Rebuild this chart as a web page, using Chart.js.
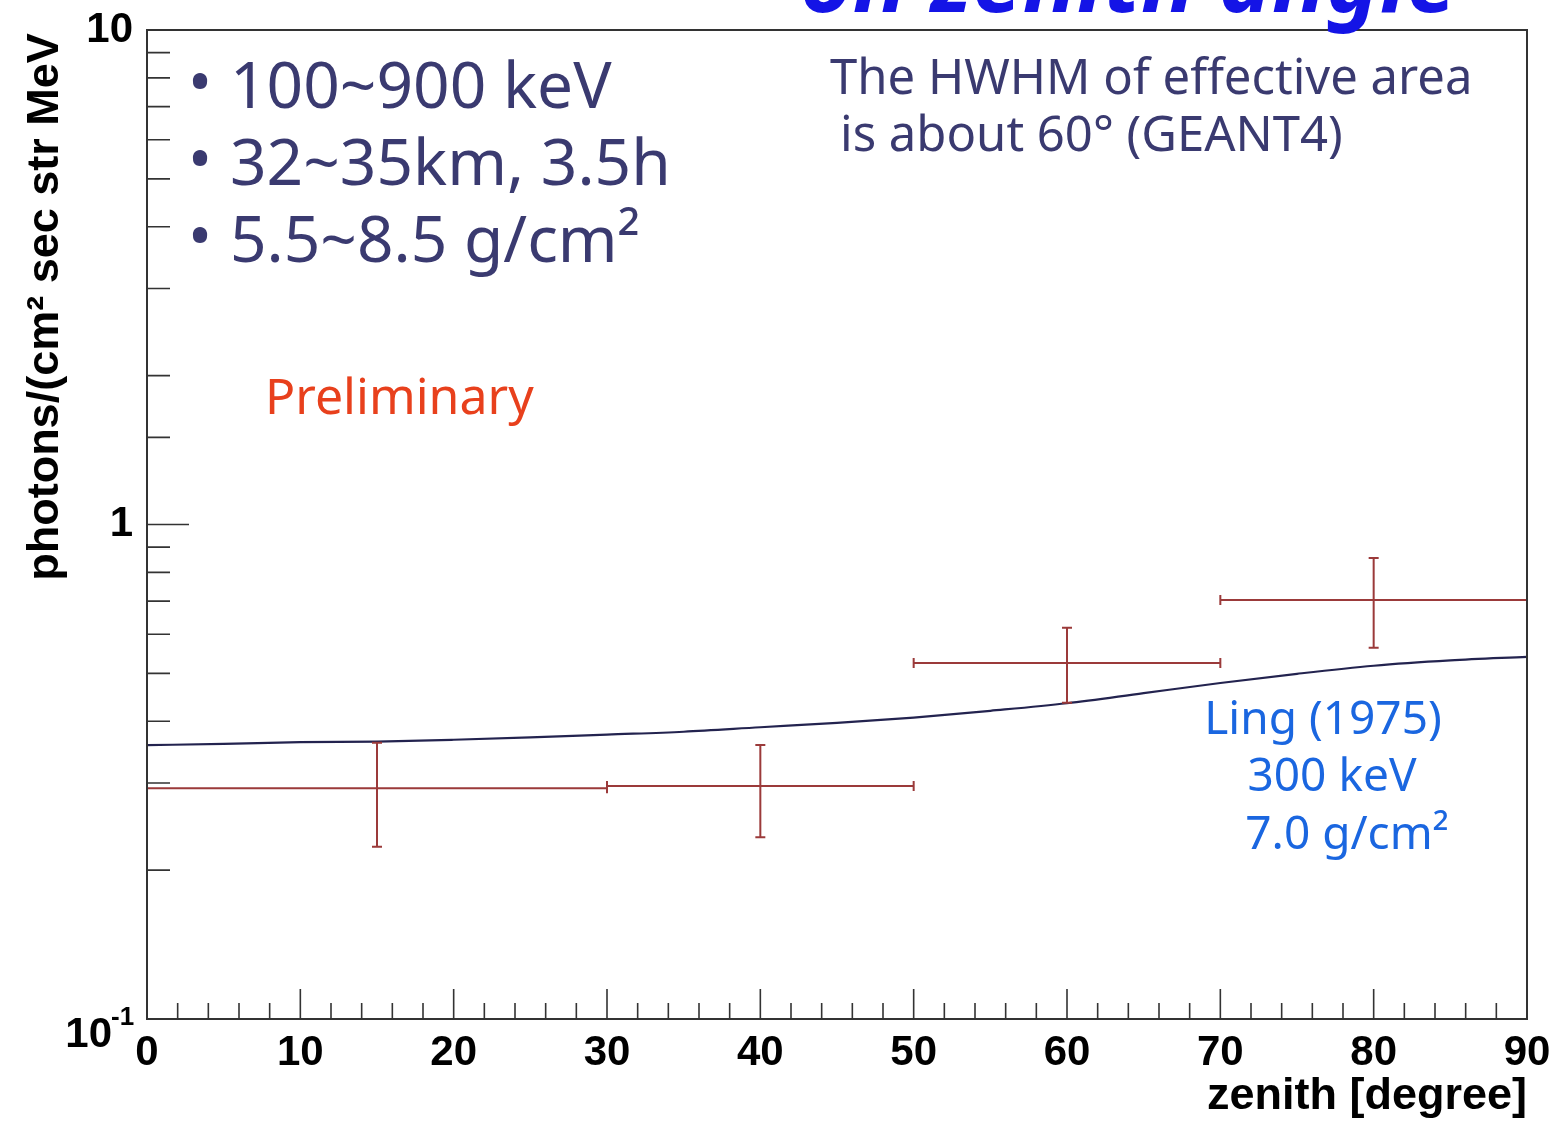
<!DOCTYPE html>
<html>
<head>
<meta charset="utf-8">
<script src="https://cdn.jsdelivr.net/npm/chart.js@4.4.0/dist/chart.umd.min.js"></script>
<style>
  html, body { margin: 0; padding: 0; background: #fff; }
  #wrap { width: 1550px; height: 1121px; position: relative; }
</style>
</head>
<body>
<div id="wrap"><canvas id="zenithChart" width="1550" height="1121"></canvas></div>
<script>
// measured flux per zenith bin
const binCenters = [15, 40, 60, 80];
const binHalfWidths = [15, 10, 10, 10];
const fluxValues = [0.293, 0.296, 0.525, 0.704];
const fluxLow = [0.223, 0.233, 0.436, 0.563];
const fluxHigh = [0.362, 0.358, 0.618, 0.856];

// Ling (1975) model, 300 keV, 7.0 g/cm2
const lingZenith = [0, 5, 10, 15, 20, 25, 30, 35, 40, 45, 50, 55, 60, 65, 70, 75, 80, 85, 90];
const lingFlux = [0.358, 0.360, 0.363, 0.364, 0.367, 0.371, 0.376, 0.381, 0.389, 0.397, 0.407, 0.420, 0.435, 0.456, 0.478, 0.499, 0.518, 0.531, 0.540];

// labelled ticks
const xTickLabels = [0, 10, 20, 30, 40, 50, 60, 70, 80, 90];
const yTickLabels = [1, 10];

const axisFont = '"Liberation Sans", Arial, sans-serif';
const noteFont = '"Noto Sans", Lato, sans-serif';

// frame, inward ticks, error bars and the slide texts
const overlayPlugin = {
    id: 'overlay',
    afterDatasetsDraw(chart) {
        const { ctx, scales: { x, y } } = chart;
        ctx.save();
        ctx.strokeStyle = '#9b3a3a';
        ctx.lineWidth = 2;
        binCenters.forEach((c, i) => {
            const px = x.getPixelForValue(c);
            const x0 = x.getPixelForValue(c - binHalfWidths[i]);
            const x1 = x.getPixelForValue(c + binHalfWidths[i]);
            const py = y.getPixelForValue(fluxValues[i]);
            const yLo = y.getPixelForValue(fluxLow[i]);
            const yHi = y.getPixelForValue(fluxHigh[i]);
            ctx.beginPath();
            ctx.moveTo(x0, py); ctx.lineTo(x1, py);
            ctx.moveTo(px, yLo); ctx.lineTo(px, yHi);
            // small end caps
            ctx.moveTo(x0, py - 5); ctx.lineTo(x0, py + 5);
            ctx.moveTo(x1, py - 5); ctx.lineTo(x1, py + 5);
            ctx.moveTo(px - 5, yLo); ctx.lineTo(px + 5, yLo);
            ctx.moveTo(px - 5, yHi); ctx.lineTo(px + 5, yHi);
            ctx.stroke();
        });
        ctx.restore();
    },
    afterDraw(chart) {
        const { ctx, chartArea: a, scales: { x, y } } = chart;
        ctx.save();

        // frame
        ctx.strokeStyle = '#333';
        ctx.lineWidth = 2;
        ctx.strokeRect(a.left, a.top, a.right - a.left, a.bottom - a.top);

        // x ticks pointing up
        ctx.lineWidth = 1.6;
        ctx.beginPath();
        x.ticks.forEach(t => {
            const px = x.getPixelForValue(t.value);
            const len = t.value % 10 === 0 ? 30 : 16;
            ctx.moveTo(px, a.bottom);
            ctx.lineTo(px, a.bottom - len);
        });
        // y ticks pointing right
        y.ticks.forEach(t => {
            const py = y.getPixelForValue(t.value);
            const lg = Math.log10(t.value);
            const len = Math.abs(lg - Math.round(lg)) < 1e-6 ? 42 : 23;
            ctx.moveTo(a.left, py);
            ctx.lineTo(a.left + len, py);
        });
        ctx.stroke();

        // 10^-1 label at the origin
        ctx.fillStyle = '#000';
        ctx.textBaseline = 'alphabetic';
        ctx.textAlign = 'right';
        ctx.font = 'bold 42px ' + axisFont;
        const yb = y.getPixelForValue(0.1);
        ctx.fillText('10', 112, yb + 28);
        ctx.font = 'bold 26px ' + axisFont;
        ctx.textAlign = 'left';
        ctx.fillText('-1', 111, yb + 6);

        // axis titles
        ctx.font = 'bold 45px ' + axisFont;
        ctx.textAlign = 'right';
        ctx.fillText('zenith [degree]', a.right, 1109);

        ctx.save();
        ctx.translate(46, 307);
        ctx.rotate(-Math.PI / 2);
        ctx.textAlign = 'center';
        ctx.textBaseline = 'middle';
        ctx.font = 'bold 45px ' + axisFont;
        ctx.fillText('photons/(cm\u00b2 sec str MeV', 0, 0);
        ctx.restore();

        // slide title, cut off at the top edge
        ctx.fillStyle = '#1414e6';
        ctx.font = 'italic bold 90px ' + noteFont;
        ctx.textAlign = 'left';
        ctx.fillText('on zenith angle', 800, 12);

        // run conditions
        ctx.fillStyle = '#3a3a70';
        ctx.font = '64px ' + noteFont;
        ['100~900 keV', '32~35km, 3.5h', '5.5~8.5 g/cm\u00b2'].forEach((s, i) => {
            const by = 108 + i * 77;
            ctx.fillText('\u2022', 188, by - 4);
            ctx.fillText(s, 230, by);
        });

        ctx.font = '49px ' + noteFont;
        ctx.fillText('The HWHM of effective area', 830, 94);
        ctx.fillText('is about 60\u00b0 (GEANT4)', 840, 151);

        ctx.fillStyle = '#e8401c';
        ctx.font = '50px ' + noteFont;
        ctx.fillText('Preliminary', 265, 414);

        ctx.fillStyle = '#1a66e0';
        ctx.font = '46px ' + noteFont;
        ctx.textAlign = 'center';
        ctx.fillText('Ling (1975)', 1323, 734);
        ctx.fillText('300 keV', 1332, 791);
        ctx.fillText('7.0 g/cm\u00b2', 1347, 849);

        ctx.restore();
    }
};

const ctx = document.getElementById('zenithChart').getContext('2d');
const zenithChart = new Chart(ctx, {
    type: 'scatter',
    data: {
        datasets: [
            {
                type: 'line',
                label: 'Ling (1975)',
                data: lingZenith.map((z, i) => ({ x: z, y: lingFlux[i] })),
                borderColor: '#23234f',
                borderWidth: 2.2,
                pointRadius: 0,
                cubicInterpolationMode: 'monotone',
                fill: false
            },
            {
                label: 'measured',
                data: binCenters.map((z, i) => ({ x: z, y: fluxValues[i] })),
                pointRadius: 0,
                backgroundColor: '#9b3a3a'
            }
        ]
    },
    options: {
        responsive: false,
        animation: false,
        layout: { padding: { left: 0, right: 23, top: 30, bottom: 0 } },
        plugins: {
            legend: { display: false },
            tooltip: { enabled: false }
        },
        scales: {
            x: {
                type: 'linear',
                min: 0,
                max: 90,
                grid: { display: false, drawTicks: false },
                border: { display: false },
                afterFit: s => { s.height = 102; s.paddingLeft = 0; s.paddingRight = 0; },
                ticks: {
                    stepSize: 2,
                    autoSkip: false,
                    maxRotation: 0,
                    padding: 9,
                    color: '#000',
                    font: { family: axisFont, size: 42, weight: 'bold' },
                    callback: v => xTickLabels.includes(v) ? String(v) : ''
                }
            },
            y: {
                type: 'logarithmic',
                min: 0.1,
                max: 10,
                grid: { display: false, drawTicks: false },
                border: { display: false },
                afterFit: s => { s.width = 147; s.paddingTop = 0; s.paddingBottom = 0; },
                ticks: {
                    autoSkip: false,
                    padding: 14,
                    color: '#000',
                    font: { family: axisFont, size: 42, weight: 'bold' },
                    callback: v => yTickLabels.includes(v) ? String(v) : ''
                }
            }
        }
    },
    plugins: [overlayPlugin]
});
</script>
</body>
</html>
